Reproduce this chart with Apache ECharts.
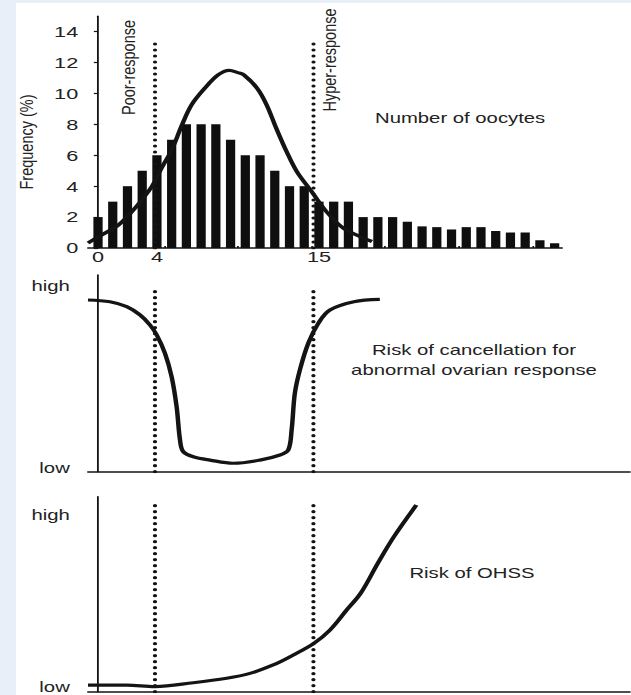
<!DOCTYPE html>
<html>
<head>
<meta charset="utf-8">
<title>Number of oocytes and response risks</title>
<script src="https://cdn.jsdelivr.net/npm/echarts@6/dist/echarts.min.js"></script>
<style>
  html, body { margin: 0; padding: 0; background: #e9eff8; }
  #frame { position: absolute; left: 16px; top: 3px; width: 615px; height: 692px; background: #ffffff; overflow: hidden; }
  #chart { position: absolute; left: 0; top: 0; height: 692px; transform-origin: 0 0; }
</style>
</head>
<body>
<div id="frame"><div id="chart"></div></div>
<script>
// Oocytes retrieved per cycle (frequency histogram)
const oocyteCounts = [0,1,2,3,4,5,6,7,8,9,10,11,12,13,14,15,16,17,18,19,20,21,22,23,24,25,26,27,28,29,30,31];
const frequency = [2,3,4,5,6,7,8,8,8,7,6,6,5,4,4,3,3,3,2,2,2,1.7,1.4,1.35,1.2,1.35,1.35,1.1,1.0,1.0,0.5,0.3];

// Fitted distribution curve over the histogram
const fitX = [-0.68,0.25,1.4,2.5,3.65,4.3,5,5.7,6.35,7.25,8.15,8.9,9.5,9.9,10.8,11.45,12.1,12.8,13.5,14.5,15.5,16.65,17.8,18.6];
const fitY = [0.33,0.84,1.5,2.57,3.97,5.15,6.34,7.96,9.26,10.34,11.2,11.5,11.35,11.2,10.34,9.26,7.75,6.24,4.94,3.65,2.36,1.28,0.74,0.42];

// Risk of cancellation for abnormal ovarian response (0 = low, 10 = high)
const cancelX = [-0.68,0.81,1.95,2.85,3.53,3.99,4.55,5.0,5.34,5.57,5.79,6.47,7.6,9.19,11.0,12.36,12.92,13.15,13.37,13.71,14.28,14.96,15.75,17.38,19.14];
const cancelY = [8.73,8.64,8.39,7.97,7.46,6.95,6.02,4.83,3.30,1.61,1.02,0.76,0.59,0.43,0.59,0.85,1.10,2.12,3.99,5.17,6.53,7.54,8.22,8.64,8.76];

// Risk of OHSS (0 = low, 10 = high)
const ohssX = [-0.68,1.95,3.87,6.47,8.74,10.32,11.9,13.26,14.66,15.75,16.88,17.85,19.0,20.1,21.62];
const ohssY = [0.34,0.34,0.26,0.46,0.69,0.94,1.37,1.88,2.48,3.16,4.18,5.06,6.58,7.95,9.57];

// Poor-response / hyper-response cut-offs and how high each dotted line reaches
const thresholds = [3.87, 14.63];
const thresholdTops = [13.27, 9.24, 9.66];

const histTicks = [0, 2, 4, 6, 8, 10, 12, 14];
const countLabels = [0, 4, 15];
const countMinorTicks = [4.5, 9.5, 14.5, 19.5, 24.5, 29.5];
const riskLabelsMid = [0.2, 9.42];
const riskLabelsLow = [0.22, 9.04];

// The figure is drawn at a narrower width and stretched horizontally.
const STRETCH = 1.4;
const FRAME_W = 615;
const W = FRAME_W / STRETCH;
const el = document.getElementById('chart');
el.style.width = W + 'px';
el.style.transform = 'scaleX(' + STRETCH + ')';

const FONT = "'Liberation Sans', Arial, sans-serif";
const INK = '#141414';
const TEXT = '#222222';
const FS = 14.5;

const px = X => (X - 16) / STRETCH;   // horizontal position in the unstretched space

const chart = echarts.init(el, null, { renderer: 'svg', width: W, height: 692 });

const pairs = (xs, ys) => xs.map((x, i) => [x, ys[i]]);

function dotted(xIdx, yIdx, x, top) {
  return {
    type: 'line', xAxisIndex: xIdx, yAxisIndex: yIdx,
    data: [[x, 0], [x, top]], symbol: 'none', silent: true, z: 5,
    lineStyle: { color: INK, width: 3, type: [0.1, 5.9], cap: 'round' }
  };
}

const labelStyle = { fontFamily: FONT, fontSize: 15.5, color: TEXT };

const option = {
  animation: false,
  backgroundColor: '#ffffff',
  grid: [
    { left: px(88), right: W - px(562), top: 13.2, height: 231.8 },
    { left: px(88), right: 0, top: 272, height: 196.7 },
    { left: px(88), right: 0, top: 493.7, height: 195 }
  ],
  xAxis: [
    {
      type: 'value', gridIndex: 0, min: -0.68, max: 31.5,
      splitLine: { show: false },
      axisLine: { lineStyle: { color: INK, width: 1.5 } },
      axisTick: { show: true, inside: true, length: 2, customValues: countMinorTicks, lineStyle: { color: INK, width: 1.2 } },
      axisLabel: Object.assign({ customValues: countLabels, margin: 1 }, labelStyle)
    },
    {
      type: 'value', gridIndex: 1, min: -0.68, max: 36.2,
      splitLine: { show: false },
      axisLine: { lineStyle: { color: INK, width: 1.5 } },
      axisTick: { show: false }, axisLabel: { show: false }
    },
    {
      type: 'value', gridIndex: 2, min: -0.68, max: 36.2,
      splitLine: { show: false },
      axisLine: { lineStyle: { color: INK, width: 1.5 } },
      axisTick: { show: false }, axisLabel: { show: false }
    }
  ],
  yAxis: [
    {
      type: 'value', gridIndex: 0, min: 0, max: 15,
      splitLine: { show: false },
      axisLine: { show: true, lineStyle: { color: INK, width: 1.3 } },
      axisTick: { show: true, length: 3, customValues: histTicks, lineStyle: { color: INK, width: 1.2 } },
      axisLabel: Object.assign({ customValues: histTicks, margin: 7 }, labelStyle)
    },
    {
      type: 'value', gridIndex: 1, min: 0, max: 10,
      splitLine: { show: false },
      axisLine: { show: true, lineStyle: { color: INK, width: 1.3 } },
      axisTick: { show: false },
      axisLabel: Object.assign({ customValues: riskLabelsMid, margin: 13, formatter: v => (v > 5 ? 'high' : 'low') }, labelStyle, { fontSize: FS })
    },
    {
      type: 'value', gridIndex: 2, min: 0, max: 10,
      splitLine: { show: false },
      axisLine: { show: true, lineStyle: { color: INK, width: 1.3 } },
      axisTick: { show: false },
      axisLabel: Object.assign({ customValues: riskLabelsLow, margin: 13, formatter: v => (v > 5 ? 'high' : 'low') }, labelStyle, { fontSize: FS })
    }
  ],
  series: [
    {
      type: 'bar', xAxisIndex: 0, yAxisIndex: 0,
      data: pairs(oocyteCounts, frequency),
      barWidth: 6.6, itemStyle: { color: '#0f0f0f' }, z: 2
    },
    {
      type: 'line', xAxisIndex: 0, yAxisIndex: 0,
      data: pairs(fitX, fitY), smooth: 0.35, symbol: 'none', z: 4,
      lineStyle: { color: INK, width: 3.2 }
    },
    dotted(0, 0, thresholds[0], thresholdTops[0]),
    dotted(0, 0, thresholds[1], thresholdTops[0]),
    {
      type: 'line', xAxisIndex: 1, yAxisIndex: 1,
      data: pairs(cancelX, cancelY), smooth: 0.35, symbol: 'none', z: 4,
      lineStyle: { color: INK, width: 3.2 }
    },
    dotted(1, 1, thresholds[0], thresholdTops[1]),
    dotted(1, 1, thresholds[1], thresholdTops[1]),
    {
      type: 'line', xAxisIndex: 2, yAxisIndex: 2,
      data: pairs(ohssX, ohssY), smooth: 0.35, symbol: 'none', z: 4,
      lineStyle: { color: INK, width: 3.2 }
    },
    dotted(2, 2, thresholds[0], thresholdTops[2]),
    dotted(2, 2, thresholds[1], thresholdTops[2])
  ]
};

chart.setOption(option);

// Rotated labels: partly undo the horizontal stretch so they keep their weight.
function vText(text, X, Y) {
  return {
    type: 'text', x: px(X), y: Y - 3, rotation: Math.PI / 2, scaleY: 0.92,
    style: { text: text, font: FS + 'px ' + FONT, fill: TEXT, align: 'center', verticalAlign: 'middle' },
    silent: true, z: 10
  };
}
function hText(text, X, Y, align) {
  return {
    type: 'text', x: px(X), y: Y - 3,
    style: { text: text, font: FS + 'px ' + FONT, fill: TEXT, align: align, verticalAlign: 'middle', lineHeight: 20 },
    silent: true, z: 10
  };
}

chart.setOption({
  graphic: [
    vText('Frequency (%)', 27, 142),
    vText('Poor-response', 129, 67.5),
    vText('Hyper-response', 330, 60),
    hText('Number of oocytes', 375, 118, 'left'),
    hText('Risk of cancellation for\nabnormal ovarian response', 474, 360, 'center'),
    hText('Risk of OHSS', 472, 573, 'center')
  ]
});
</script>
</body>
</html>
